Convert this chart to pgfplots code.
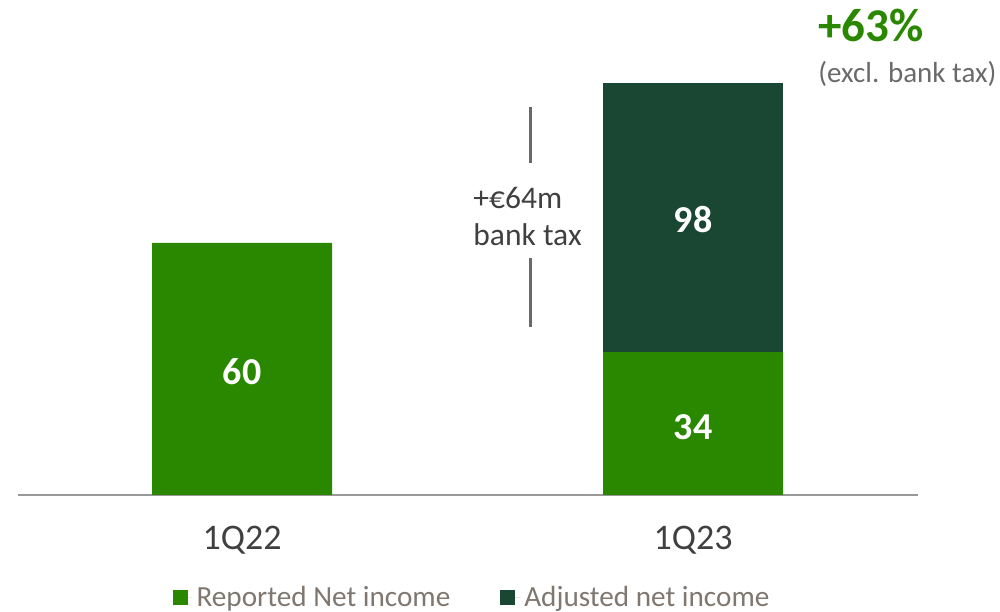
\documentclass[border=0pt]{standalone}
\usepackage{fontspec}
\setmainfont{Carlito}
\usepackage{pgfplots}
\pgfplotsset{compat=1.18}

\definecolor{repgreen}{HTML}{2A8700}
\definecolor{adjgreen}{HTML}{1A4734}
\definecolor{tickgray}{HTML}{404040}
\definecolor{legtext}{HTML}{7F7770}
\definecolor{notegray}{HTML}{6A6A6A}

\begin{document}
\begin{tikzpicture}
\begin{axis}[
  scale only axis,
  width=450pt, height=210pt,
  xmin=18, xmax=918,
  ymin=0, ymax=100,
  clip=false,
  ybar stacked,
  bar width=180,
  axis x line=bottom,
  axis y line=none,
  axis line style={draw=gray!80, line width=0.6pt, -},
  xtick={242,693},
  xticklabels={1Q22,1Q23},
  major tick length=0pt,
  xticklabel style={anchor=base, yshift=-27.5pt, font=\fontsize{18}{20}\selectfont, text=tickgray},
  legend columns=2,
  legend style={at={(axis cs:473,-24.4)}, anchor=center, draw=none, fill=none,
    font=\fontsize{14.6}{16}\selectfont, text=legtext,
    /tikz/every even column/.append style={column sep=23pt}},
  legend image code/.code={\fill[#1] (0pt,-3.6pt) rectangle (7.5pt,3.9pt);
    \path (0pt,0pt) -- (10pt,0pt);},
]
\addplot[fill=repgreen, draw=none] coordinates {(242,60) (693,34)};
\addlegendentry{Reported Net income}
\addplot[fill=adjgreen, draw=none] coordinates {(242,0) (693,64)};
\addlegendentry{Adjusted net income}

% positions of bar labels
\coordinate (l60) at (axis cs:242,29.3);
\coordinate (l34) at (axis cs:693,16.2);
\coordinate (l98) at (axis cs:693,65.5);

% bank tax bracket
\draw[notegray, line width=1.5pt] (axis cs:530,92.4) -- (axis cs:530,79.0);
\draw[notegray, line width=1.5pt] (axis cs:530,56.4) -- (axis cs:530,40.0);
\node[anchor=base west, inner sep=0pt, text=tickgray, font=\fontsize{15.75}{18}\selectfont] at (axis cs:473,68.3) {+€64m};
\node[anchor=base west, inner sep=0pt, text=tickgray, font=\fontsize{15.75}{18}\selectfont] at (axis cs:473,59.5) {bank tax};

% growth note
\node[anchor=base west, inner sep=0pt, text=repgreen, font=\bfseries\fontsize{23.5}{26}\selectfont] at (axis cs:818,107.9) {+63\%};
\node[anchor=base west, inner sep=0pt, text=notegray, font=\fontsize{14.5}{17}\selectfont] at (axis cs:818,98.3) {(excl. bank tax)};

\coordinate (bl) at (axis cs:0,-27.857);
\coordinate (tr) at (axis cs:1000,117.857);
\end{axis}
\tikzset{barlabel/.style={text=white, font=\bfseries\fontsize{19}{21}\selectfont}}
\node[barlabel] at (l60) {60};
\node[barlabel] at (l34) {34};
\node[barlabel] at (l98) {98};
\pgfresetboundingbox
\path[use as bounding box] (bl) rectangle (tr);
\end{tikzpicture}
\end{document}
